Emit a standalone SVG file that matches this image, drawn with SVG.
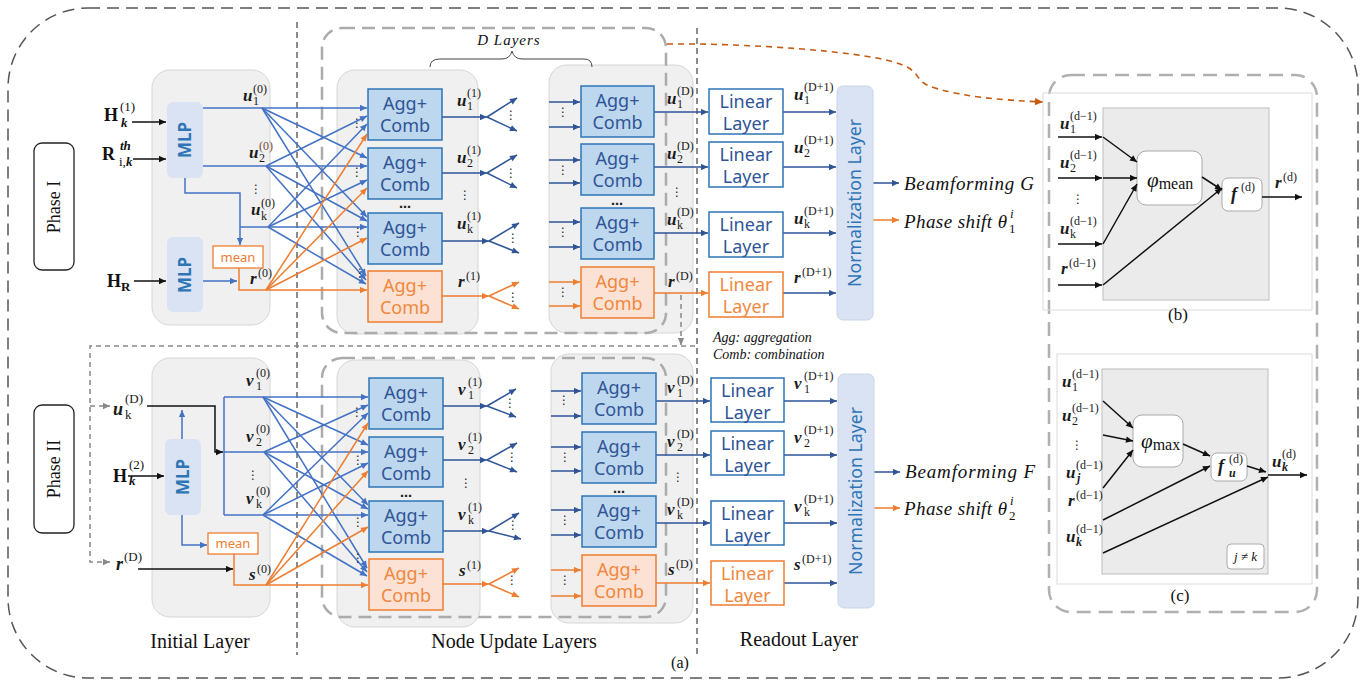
<svg xmlns="http://www.w3.org/2000/svg" width="1364" height="684" viewBox="0 0 1364 684">
<defs>
<marker id="mb" viewBox="0 0 10 10" refX="10" refY="5" markerWidth="8" markerHeight="7" markerUnits="userSpaceOnUse" orient="auto"><path d="M0,0.5 L10,5 L0,9.5 z" fill="#4472c4"/></marker>
<marker id="md" viewBox="0 0 10 10" refX="10" refY="5" markerWidth="8" markerHeight="7" markerUnits="userSpaceOnUse" orient="auto"><path d="M0,0.5 L10,5 L0,9.5 z" fill="#2f5597"/></marker>
<marker id="mo" viewBox="0 0 10 10" refX="10" refY="5" markerWidth="8" markerHeight="7" markerUnits="userSpaceOnUse" orient="auto"><path d="M0,0.5 L10,5 L0,9.5 z" fill="#ed7d31"/></marker>
<marker id="mk" viewBox="0 0 10 10" refX="10" refY="5" markerWidth="8" markerHeight="7" markerUnits="userSpaceOnUse" orient="auto"><path d="M0,0.5 L10,5 L0,9.5 z" fill="#111"/></marker>
<marker id="mg" viewBox="0 0 10 10" refX="10" refY="5" markerWidth="8" markerHeight="7" markerUnits="userSpaceOnUse" orient="auto"><path d="M0,0.5 L10,5 L0,9.5 z" fill="#888"/></marker>
<marker id="mr" viewBox="0 0 10 10" refX="10" refY="5" markerWidth="9" markerHeight="8" markerUnits="userSpaceOnUse" orient="auto"><path d="M0,0.5 L10,5 L0,9.5 z" fill="#c55a11"/></marker>
</defs>
<style>
.panel{fill:#f0f0f0;stroke:#d6d6d6;stroke-width:1}
.dl{fill:none;stroke:#ababab;stroke-width:2.5;stroke-dasharray:13 7}
.div{fill:none;stroke:#666;stroke-width:1.5;stroke-dasharray:6 4}
.lb{fill:none;stroke:#4472c4;stroke-width:1.5}
.ld{fill:none;stroke:#2f5597;stroke-width:1.5}
.lo{fill:none;stroke:#ed7d31;stroke-width:1.5}
.lk{fill:none;stroke:#111;stroke-width:1.5}
.lg{fill:none;stroke:#888;stroke-width:1.5;stroke-dasharray:5 4}
.ab{fill:#bdd7ee;stroke:#2e75b6;stroke-width:1.5}
.ao{fill:#fbe2d5;stroke:#ed7d31;stroke-width:1.5}
.linb{fill:#fff;stroke:#2e75b6;stroke-width:1.5}
.lino{fill:#fff;stroke:#ed7d31;stroke-width:1.5}
.mlp{fill:#dae3f3;stroke:none}
.norm{fill:#dae3f3;stroke:#c9d5ea;stroke-width:1}
.tb{font-family:"Noto Sans","Open Sans",sans-serif;font-size:18px;fill:#2f5597;text-anchor:middle}
.to{font-family:"Noto Sans","Open Sans",sans-serif;font-size:18px;fill:#f0883e;text-anchor:middle}
.tm{font-family:"Noto Sans","Open Sans",sans-serif;font-size:17px;font-weight:bold;fill:#2e75b6;text-anchor:middle}
.v{font-family:"Liberation Serif","DejaVu Serif",serif;font-weight:bold;font-style:italic;font-size:17px;fill:#1a1a1a}
.sp{font-size:12px;font-weight:normal;font-style:normal}
.hb{font-family:"Liberation Serif","DejaVu Serif",serif;font-weight:bold;font-size:18px;fill:#111}
.ser{font-family:"Liberation Serif","DejaVu Serif",serif;font-size:19px;fill:#111}
.it{font-family:"Liberation Serif","DejaVu Serif",serif;font-style:italic;font-size:19px;fill:#111}
.dots{font-family:"DejaVu Sans",sans-serif;font-size:12px;fill:#222;text-anchor:middle;dominant-baseline:central}
.wbox{fill:#fff;stroke:#aaa;stroke-width:1}
</style>
<rect width="1364" height="684" fill="#fff"/>
<rect id="outer-border" x="8" y="8" width="1350" height="670" rx="80" fill="none" stroke="#555" stroke-width="1.5" stroke-dasharray="12 7"/>

<g id="initial-layer-top"><rect class="panel" x="152" y="70" width="118" height="255" rx="18"/></g>
<g id="initial-layer-bottom"><rect class="panel" x="152" y="358" width="118" height="259" rx="18"/></g>
<g id="node-update-top-1"><rect class="panel" x="337" y="70" width="141" height="264" rx="18"/></g>
<g id="node-update-top-2"><rect class="panel" x="549" y="65" width="144" height="268" rx="18"/></g>
<g id="node-update-bottom-1"><rect class="panel" x="337" y="360" width="143" height="267" rx="18"/></g>
<g id="node-update-bottom-2"><rect class="panel" x="551" y="354" width="142" height="269" rx="18"/></g>

<g id="dividers">
<line class="div" x1="297" y1="22" x2="297" y2="655"/>
<line class="div" x1="697" y1="28" x2="697" y2="655"/>
</g>

<g id="d-layers">
<rect class="dl" x="322" y="28" width="344" height="305" rx="20"/>
<rect class="dl" x="322" y="358" width="344" height="259" rx="20"/>
<text x="509" y="45" class="it" style="font-size:15px;letter-spacing:1px" text-anchor="middle">D Layers</text>
<path d="M430,67 Q430,59 440,59 L502,59 Q510,59 512,51 Q514,59 522,59 L584,59 Q592,59 592,67" fill="none" stroke="#444" stroke-width="1"/>
</g>

<g id="phase1"><rect x="34" y="143" width="40" height="127" rx="8" fill="#fff" stroke="#222" stroke-width="1.3"/>
<text class="ser" style="font-size:18px" text-anchor="middle" transform="translate(60,207) rotate(-90)">Phase I</text></g>
<g id="phase2"><rect x="34" y="405" width="40" height="128" rx="8" fill="#fff" stroke="#222" stroke-width="1.3"/>
<text class="ser" style="font-size:18px" text-anchor="middle" transform="translate(60,469) rotate(-90)">Phase II</text></g>

<g id="connectors">
<path class="lg" d="M681,295 V345" marker-end="url(#mg)"/>
<path class="lg" d="M695,346 H90 V562 H110" marker-end="url(#mg)"/>
<path class="lg" d="M90,406 H110" marker-end="url(#mg)"/>
<path d="M667,44 L700,44 C790,46 880,54 905,66 C922,74 914,82 935,88 C965,97 1000,100 1043,102" fill="none" stroke="#c55a11" stroke-width="1.6" stroke-dasharray="6 5" marker-end="url(#mr)"/>

<path class="lk" d="M132,122 H166" marker-end="url(#mk)"/>
<path class="lk" d="M133,159 H166" marker-end="url(#mk)"/>
<path class="lk" d="M134,281 H166" marker-end="url(#mk)"/>
<path class="lb" d="M203,108 H367" marker-end="url(#mb)"/>
<path class="lb" d="M203,166 H367" marker-end="url(#mb)"/>
<path class="lb" d="M185,178 V193 H240 V245" marker-end="url(#mb)"/>
<path class="lb" d="M240,227 H367" marker-end="url(#mb)"/>
<path class="lb" d="M203,281 H237" marker-end="url(#mb)"/>
<path class="lo" d="M239,268 V290 H367" marker-end="url(#mo)"/>
<path class="lb" d="M262,108 L367,158" marker-end="url(#mb)"/>
<path class="lb" d="M262,108 L367,217" marker-end="url(#mb)"/>
<path class="lb" d="M262,108 L366,276" marker-end="url(#mb)"/>
<path class="lb" d="M266,166 L367,116" marker-end="url(#mb)"/>
<path class="lb" d="M266,166 L367,221" marker-end="url(#mb)"/>
<path class="lb" d="M266,166 L366,280" marker-end="url(#mb)"/>
<path class="lb" d="M268,227 L367,124" marker-end="url(#mb)"/>
<path class="lb" d="M268,227 L367,180" marker-end="url(#mb)"/>
<path class="lb" d="M268,227 L366,284" marker-end="url(#mb)"/>
<path class="lo" d="M266,290 L367,134" marker-end="url(#mo)"/>
<path class="lo" d="M266,290 L367,188" marker-end="url(#mo)"/>
<path class="lo" d="M266,290 L367,238" marker-end="url(#mo)"/>

<path class="lk" d="M147,406 H215 V452 H223" marker-end="url(#mk)"/>
<path class="lk" d="M128,476 H164" marker-end="url(#mk)"/>
<path class="lk" d="M138,569 H233" marker-end="url(#mk)"/>
<path class="lb" d="M182,439 V410" marker-end="url(#mb)"/>
<path class="lb" d="M182,515 V545 H207" marker-end="url(#mb)"/>
<path class="lo" d="M234,554 V585 H368" marker-end="url(#mo)"/>
<path class="lb" d="M224,397 V515"/>
<path class="lb" d="M224,397 H368" marker-end="url(#mb)"/>
<path class="lb" d="M224,452 H368" marker-end="url(#mb)"/>
<path class="lb" d="M224,515 H368" marker-end="url(#mb)"/>
<path class="lb" d="M263,397 L368,445" marker-end="url(#mb)"/>
<path class="lb" d="M263,397 L368,505" marker-end="url(#mb)"/>
<path class="lb" d="M263,397 L367,568" marker-end="url(#mb)"/>
<path class="lb" d="M264,452 L368,405" marker-end="url(#mb)"/>
<path class="lb" d="M264,452 L368,509" marker-end="url(#mb)"/>
<path class="lb" d="M264,452 L367,572" marker-end="url(#mb)"/>
<path class="lb" d="M263,515 L368,413" marker-end="url(#mb)"/>
<path class="lb" d="M263,515 L368,463" marker-end="url(#mb)"/>
<path class="lb" d="M263,515 L367,576" marker-end="url(#mb)"/>
<path class="lo" d="M266,585 L368,423" marker-end="url(#mo)"/>
<path class="lo" d="M266,585 L368,471" marker-end="url(#mo)"/>
<path class="lo" d="M266,585 L368,527" marker-end="url(#mo)"/>

<path class="ld" d="M442,117 H487" marker-end="url(#md)"/>
<path class="ld" d="M487,117 L517,98" marker-end="url(#md)"/>
<path class="ld" d="M487,117 L517,131" marker-end="url(#md)"/>
<path class="ld" d="M442,173 H487" marker-end="url(#md)"/>
<path class="ld" d="M487,173 L517,155" marker-end="url(#md)"/>
<path class="ld" d="M487,173 L517,188" marker-end="url(#md)"/>
<path class="ld" d="M442,241 H489" marker-end="url(#md)"/>
<path class="ld" d="M489,241 L519,223" marker-end="url(#md)"/>
<path class="ld" d="M489,241 L519,253" marker-end="url(#md)"/>
<path class="lo" d="M442,296 H489" marker-end="url(#mo)"/>
<path class="lo" d="M489,296 L519,282" marker-end="url(#mo)"/>
<path class="lo" d="M489,296 L519,309" marker-end="url(#mo)"/>
<path class="ld" d="M443,406 H487" marker-end="url(#md)"/>
<path class="ld" d="M487,406 L516,389" marker-end="url(#md)"/>
<path class="ld" d="M487,406 L516,417" marker-end="url(#md)"/>
<path class="ld" d="M443,460 H487" marker-end="url(#md)"/>
<path class="ld" d="M487,460 L517,443" marker-end="url(#md)"/>
<path class="ld" d="M487,460 L517,472" marker-end="url(#md)"/>
<path class="ld" d="M443,531 H489" marker-end="url(#md)"/>
<path class="ld" d="M489,531 L519,513" marker-end="url(#md)"/>
<path class="ld" d="M489,531 L521,539" marker-end="url(#md)"/>
<path class="lo" d="M443,584 H489" marker-end="url(#mo)"/>
<path class="lo" d="M489,584 L519,568" marker-end="url(#mo)"/>
<path class="lo" d="M489,584 L519,597" marker-end="url(#mo)"/>

<path class="ld" d="M549,102 H580" marker-end="url(#md)"/>
<path class="ld" d="M549,127 H580" marker-end="url(#md)"/>
<path class="ld" d="M549,160 H580" marker-end="url(#md)"/>
<path class="ld" d="M549,183 H580" marker-end="url(#md)"/>
<path class="ld" d="M549,222 H580" marker-end="url(#md)"/>
<path class="ld" d="M549,247 H580" marker-end="url(#md)"/>
<path class="lo" d="M549,282 H580" marker-end="url(#mo)"/>
<path class="lo" d="M549,306 H580" marker-end="url(#mo)"/>
<path class="ld" d="M551,391 H581" marker-end="url(#md)"/>
<path class="ld" d="M551,416 H581" marker-end="url(#md)"/>
<path class="ld" d="M551,447 H581" marker-end="url(#md)"/>
<path class="ld" d="M551,471 H581" marker-end="url(#md)"/>
<path class="ld" d="M551,510 H581" marker-end="url(#md)"/>
<path class="ld" d="M551,535 H581" marker-end="url(#md)"/>
<path class="lo" d="M551,570 H581" marker-end="url(#mo)"/>
<path class="lo" d="M551,596 H581" marker-end="url(#mo)"/>

<path class="ld" d="M654,112 H708" marker-end="url(#md)"/>
<path class="ld" d="M654,167 H708" marker-end="url(#md)"/>
<path class="ld" d="M654,233 H708" marker-end="url(#md)"/>
<path class="lo" d="M654,293 H708" marker-end="url(#mo)"/>
<path class="ld" d="M656,401 H710" marker-end="url(#md)"/>
<path class="ld" d="M656,455 H710" marker-end="url(#md)"/>
<path class="ld" d="M656,523 H710" marker-end="url(#md)"/>
<path class="lo" d="M656,583 H710" marker-end="url(#mo)"/>
<path class="ld" d="M783,112 H836" marker-end="url(#md)"/>
<path class="ld" d="M783,167 H836" marker-end="url(#md)"/>
<path class="ld" d="M783,233 H836" marker-end="url(#md)"/>
<path class="ld" d="M783,293 H836" marker-end="url(#md)"/>
<path class="ld" d="M784,401 H837" marker-end="url(#md)"/>
<path class="ld" d="M784,455 H837" marker-end="url(#md)"/>
<path class="ld" d="M784,523 H837" marker-end="url(#md)"/>
<path class="ld" d="M784,583 H837" marker-end="url(#md)"/>
<path class="ld" d="M873,183 H899" marker-end="url(#md)"/>
<path class="lo" d="M873,220 H899" marker-end="url(#mo)"/>
<path class="ld" d="M874,472 H900" marker-end="url(#md)"/>
<path class="lo" d="M874,508 H900" marker-end="url(#mo)"/>
</g>

<g id="mlp-top-1"><rect class="mlp" x="167" y="102" width="36" height="76" rx="6"/><text class="tm" transform="translate(191,140) rotate(-90)">MLP</text></g>
<g id="mlp-top-2"><rect class="mlp" x="167" y="237" width="36" height="75" rx="6"/><text class="tm" transform="translate(191,275) rotate(-90)">MLP</text></g>
<g id="mean-top"><rect x="213" y="246" width="50" height="22" fill="#fff" stroke="#ed7d31" stroke-width="1.3"/><text x="238" y="262" font-family="Noto Sans, sans-serif" font-size="13" fill="#ed7d31" text-anchor="middle">mean</text></g>
<g id="mlp-bottom"><rect class="mlp" x="165" y="439" width="36" height="76" rx="6"/><text class="tm" transform="translate(189,477) rotate(-90)">MLP</text></g>
<g id="mean-bottom"><rect x="208" y="533" width="50" height="21" fill="#fff" stroke="#ed7d31" stroke-width="1.3"/><text x="233" y="548" font-family="Noto Sans, sans-serif" font-size="13" fill="#ed7d31" text-anchor="middle">mean</text></g>

<g id="agg-t1-1"><rect class="ab" x="368" y="89" width="74" height="51"/><text class="tb" x="405" y="110">Agg+</text><text class="tb" x="405" y="132">Comb</text></g>
<g id="agg-t1-2"><rect class="ab" x="368" y="148" width="74" height="51"/><text class="tb" x="405" y="169">Agg+</text><text class="tb" x="405" y="191">Comb</text></g>
<g id="agg-t1-3"><rect class="ab" x="368" y="213" width="74" height="51"/><text class="tb" x="405" y="234">Agg+</text><text class="tb" x="405" y="256">Comb</text></g>
<g id="agg-t1-4"><rect class="ao" x="368" y="271" width="74" height="51"/><text class="to" x="405" y="292">Agg+</text><text class="to" x="405" y="314">Comb</text></g>
<g id="agg-t2-1"><rect class="ab" x="581" y="86" width="73" height="51"/><text class="tb" x="617.5" y="107">Agg+</text><text class="tb" x="617.5" y="129">Comb</text></g>
<g id="agg-t2-2"><rect class="ab" x="581" y="144" width="73" height="51"/><text class="tb" x="617.5" y="165">Agg+</text><text class="tb" x="617.5" y="187">Comb</text></g>
<g id="agg-t2-3"><rect class="ab" x="581" y="208" width="73" height="51"/><text class="tb" x="617.5" y="229">Agg+</text><text class="tb" x="617.5" y="251">Comb</text></g>
<g id="agg-t2-4"><rect class="ao" x="581" y="267" width="73" height="51"/><text class="to" x="617.5" y="288">Agg+</text><text class="to" x="617.5" y="310">Comb</text></g>
<g id="agg-b1-1"><rect class="ab" x="369" y="378" width="74" height="51"/><text class="tb" x="406" y="399">Agg+</text><text class="tb" x="406" y="421">Comb</text></g>
<g id="agg-b1-2"><rect class="ab" x="369" y="437" width="74" height="50"/><text class="tb" x="406" y="458">Agg+</text><text class="tb" x="406" y="480">Comb</text></g>
<g id="agg-b1-3"><rect class="ab" x="369" y="501" width="74" height="51"/><text class="tb" x="406" y="522">Agg+</text><text class="tb" x="406" y="544">Comb</text></g>
<g id="agg-b1-4"><rect class="ao" x="369" y="559" width="74" height="51"/><text class="to" x="406" y="580">Agg+</text><text class="to" x="406" y="602">Comb</text></g>
<g id="agg-b2-1"><rect class="ab" x="582" y="373" width="74" height="51"/><text class="tb" x="619" y="394">Agg+</text><text class="tb" x="619" y="416">Comb</text></g>
<g id="agg-b2-2"><rect class="ab" x="582" y="432" width="74" height="51"/><text class="tb" x="619" y="453">Agg+</text><text class="tb" x="619" y="475">Comb</text></g>
<g id="agg-b2-3"><rect class="ab" x="582" y="496" width="74" height="51"/><text class="tb" x="619" y="517">Agg+</text><text class="tb" x="619" y="539">Comb</text></g>
<g id="agg-b2-4"><rect class="ao" x="582" y="555" width="74" height="51"/><text class="to" x="619" y="576">Agg+</text><text class="to" x="619" y="598">Comb</text></g>

<g id="lin-t1"><rect class="linb" x="709" y="89" width="74" height="45"/><text class="tb" x="746" y="108">Linear</text><text class="tb" x="746" y="130">Layer</text></g>
<g id="lin-t2"><rect class="linb" x="709" y="142" width="74" height="45"/><text class="tb" x="746" y="161">Linear</text><text class="tb" x="746" y="183">Layer</text></g>
<g id="lin-t3"><rect class="linb" x="709" y="212" width="74" height="45"/><text class="tb" x="746" y="231">Linear</text><text class="tb" x="746" y="253">Layer</text></g>
<g id="lin-t4"><rect class="lino" x="709" y="272" width="74" height="45"/><text class="to" x="746" y="291">Linear</text><text class="to" x="746" y="313">Layer</text></g>
<g id="lin-b1"><rect class="linb" x="711" y="378" width="73" height="44"/><text class="tb" x="747.5" y="397">Linear</text><text class="tb" x="747.5" y="419">Layer</text></g>
<g id="lin-b2"><rect class="linb" x="711" y="431" width="73" height="44"/><text class="tb" x="747.5" y="450">Linear</text><text class="tb" x="747.5" y="472">Layer</text></g>
<g id="lin-b3"><rect class="linb" x="711" y="501" width="73" height="44"/><text class="tb" x="747.5" y="520">Linear</text><text class="tb" x="747.5" y="542">Layer</text></g>
<g id="lin-b4"><rect class="lino" x="711" y="561" width="73" height="44"/><text class="to" x="747.5" y="580">Linear</text><text class="to" x="747.5" y="602">Layer</text></g>

<g id="norm-top"><rect class="norm" x="837" y="86" width="36" height="234" rx="6"/><text class="tb" style="fill:#2e75b6" transform="translate(861,203) rotate(-90)" textLength="168" lengthAdjust="spacingAndGlyphs">Normalization Layer</text></g>
<g id="norm-bottom"><rect class="norm" x="838" y="374" width="36" height="234" rx="6"/><text class="tb" style="fill:#2e75b6" transform="translate(862,491) rotate(-90)" textLength="168" lengthAdjust="spacingAndGlyphs">Normalization Layer</text></g>

<g id="out-top">
<text class="it" x="904" y="190" textLength="130" lengthAdjust="spacing">Beamforming G</text>
<text class="it" x="904" y="228"><tspan textLength="103" lengthAdjust="spacing">Phase shift θ</tspan><tspan x="1009" y="233" style="font-size:13px;font-style:normal">1</tspan><tspan x="1010" y="218" style="font-size:13px">i</tspan></text>
</g>
<g id="out-bottom">
<text class="it" x="905" y="478" textLength="130" lengthAdjust="spacing">Beamforming F</text>
<text class="it" x="904" y="515"><tspan textLength="103" lengthAdjust="spacing">Phase shift θ</tspan><tspan x="1009" y="520" style="font-size:13px;font-style:normal">2</tspan><tspan x="1010" y="505" style="font-size:13px">i</tspan></text>
</g>

<g id="labels-input">
<text class="hb" x="104" y="121">H<tspan x="120" y="111" style="font-size:13px;font-weight:normal">(1)</tspan><tspan x="121" y="127" style="font-size:13px;font-style:italic">k</tspan></text>
<text class="hb" x="102" y="160">R<tspan x="120" y="150" style="font-size:13px;font-style:italic">th</tspan><tspan x="119" y="166" style="font-size:13px;font-weight:normal">i,<tspan style="font-style:italic;font-weight:bold">k</tspan></tspan></text>
<text class="hb" x="107" y="287">H<tspan x="121" y="291" style="font-size:13px">R</tspan></text>
<text class="v" x="113" y="415" style="font-size:18px">u<tspan class="sp" x="125" y="403" style="font-size:13px">(D)</tspan><tspan class="sp" x="125" y="419" style="font-size:13px">k</tspan></text>
<text class="hb" x="113" y="482">H<tspan x="129" y="469" style="font-size:13px;font-weight:normal">(2)</tspan><tspan x="129" y="485" style="font-size:13px;font-style:italic">k</tspan></text>
<text class="v" x="116" y="570" style="font-size:18px">r<tspan class="sp" x="124" y="561" style="font-size:13px">(D)</tspan></text>
</g>

<g id="labels-vars">
<text class="v" x="243" y="101">u<tspan class="sp" x="253" y="93">(0)</tspan><tspan class="sp" x="253" y="105">1</tspan></text>
<text class="v" x="249" y="158">u<tspan class="sp" x="259" y="150" style="fill:#7a4a40">(0)</tspan><tspan class="sp" x="259" y="162">2</tspan></text>
<text class="v" x="251" y="215">u<tspan class="sp" x="261" y="207">(0)</tspan><tspan class="sp" x="261" y="220">k</tspan></text>
<text class="v" x="250" y="284">r<tspan class="sp" x="258" y="277">(0)</tspan></text>
<text class="v" x="246" y="386">v<tspan class="sp" x="256" y="377">(0)</tspan><tspan class="sp" x="256" y="390">1</tspan></text>
<text class="v" x="246" y="442">v<tspan class="sp" x="256" y="433">(0)</tspan><tspan class="sp" x="256" y="446">2</tspan></text>
<text class="v" x="246" y="504">v<tspan class="sp" x="256" y="495">(0)</tspan><tspan class="sp" x="256" y="508">k</tspan></text>
<text class="v" x="249" y="580">s<tspan class="sp" x="257" y="573">(0)</tspan></text>

<text class="v" x="457" y="106">u<tspan class="sp" x="467" y="97">(1)</tspan><tspan class="sp" x="467" y="110">1</tspan></text>
<text class="v" x="457" y="163">u<tspan class="sp" x="467" y="154">(1)</tspan><tspan class="sp" x="467" y="167">2</tspan></text>
<text class="v" x="457" y="229">u<tspan class="sp" x="467" y="220">(1)</tspan><tspan class="sp" x="467" y="233">k</tspan></text>
<text class="v" x="458" y="287">r<tspan class="sp" x="466" y="280">(1)</tspan></text>
<text class="v" x="458" y="395">v<tspan class="sp" x="468" y="386">(1)</tspan><tspan class="sp" x="468" y="399">1</tspan></text>
<text class="v" x="458" y="450">v<tspan class="sp" x="468" y="441">(1)</tspan><tspan class="sp" x="468" y="454">2</tspan></text>
<text class="v" x="458" y="520">v<tspan class="sp" x="468" y="511">(1)</tspan><tspan class="sp" x="468" y="524">k</tspan></text>
<text class="v" x="459" y="576">s<tspan class="sp" x="467" y="569">(1)</tspan></text>

<text class="v" x="667" y="104">u<tspan class="sp" x="677" y="95">(D)</tspan><tspan class="sp" x="677" y="108">1</tspan></text>
<text class="v" x="667" y="159">u<tspan class="sp" x="677" y="150">(D)</tspan><tspan class="sp" x="677" y="163">2</tspan></text>
<text class="v" x="667" y="225">u<tspan class="sp" x="677" y="216">(D)</tspan><tspan class="sp" x="677" y="229">k</tspan></text>
<text class="v" x="668" y="287">r<tspan class="sp" x="676" y="280">(D)</tspan></text>
<text class="v" x="667" y="393">v<tspan class="sp" x="677" y="384">(D)</tspan><tspan class="sp" x="677" y="397">1</tspan></text>
<text class="v" x="667" y="447">v<tspan class="sp" x="677" y="438">(D)</tspan><tspan class="sp" x="677" y="451">2</tspan></text>
<text class="v" x="667" y="515">v<tspan class="sp" x="677" y="506">(D)</tspan><tspan class="sp" x="677" y="519">k</tspan></text>
<text class="v" x="668" y="575">s<tspan class="sp" x="676" y="568">(D)</tspan></text>

<text class="v" x="794" y="100">u<tspan class="sp" x="804" y="91">(D+1)</tspan><tspan class="sp" x="804" y="104">1</tspan></text>
<text class="v" x="794" y="153">u<tspan class="sp" x="804" y="144">(D+1)</tspan><tspan class="sp" x="804" y="157">2</tspan></text>
<text class="v" x="794" y="224">u<tspan class="sp" x="804" y="215">(D+1)</tspan><tspan class="sp" x="804" y="228">k</tspan></text>
<text class="v" x="794" y="283">r<tspan class="sp" x="802" y="276">(D+1)</tspan></text>
<text class="v" x="794" y="389">v<tspan class="sp" x="804" y="380">(D+1)</tspan><tspan class="sp" x="804" y="393">1</tspan></text>
<text class="v" x="794" y="443">v<tspan class="sp" x="804" y="434">(D+1)</tspan><tspan class="sp" x="804" y="447">2</tspan></text>
<text class="v" x="794" y="512">v<tspan class="sp" x="804" y="503">(D+1)</tspan><tspan class="sp" x="804" y="516">k</tspan></text>
<text class="v" x="794" y="570">s<tspan class="sp" x="802" y="563">(D+1)</tspan></text>
</g>

<g id="ellipses">
<text class="dots" x="256" y="189">⋮</text>
<text class="dots" x="253" y="475">⋮</text>
<text class="dots" x="465" y="195">⋮</text>
<text class="dots" x="466" y="483">⋮</text>
<text class="dots" x="677" y="192">⋮</text>
<text class="dots" x="678" y="477">⋮</text>
<text class="dots" x="511" y="115">⋮</text>
<text class="dots" x="511" y="173">⋮</text>
<text class="dots" x="513" y="238">⋮</text>
<text class="dots" x="513" y="297">⋮</text>
<text class="dots" x="510" y="403">⋮</text>
<text class="dots" x="512" y="457">⋮</text>
<text class="dots" x="513" y="525">⋮</text>
<text class="dots" x="512" y="580">⋮</text>
<text class="dots" x="563" y="112">⋮</text>
<text class="dots" x="563" y="170">⋮</text>
<text class="dots" x="563" y="232">⋮</text>
<text class="dots" x="563" y="292">⋮</text>
<text class="dots" x="564" y="400">⋮</text>
<text class="dots" x="565" y="457">⋮</text>
<text class="dots" x="565" y="520">⋮</text>
<text class="dots" x="565" y="580">⋮</text>
<text class="dots" x="357" y="123">⋮</text>
<text class="dots" x="357" y="172">⋮</text>
<text class="dots" x="358" y="232">⋮</text>
<text class="dots" x="360" y="273">⋮</text>
<text class="dots" x="357" y="412">⋮</text>
<text class="dots" x="358" y="460">⋮</text>
<text class="dots" x="358" y="522">⋮</text>
<text class="dots" x="358" y="558">⋮</text>
<text class="dots" x="405" y="204" style="font-weight:bold">…</text>
<text class="dots" x="617" y="201" style="font-weight:bold">…</text>
<text class="dots" x="406" y="493" style="font-weight:bold">…</text>
<text class="dots" x="619" y="489" style="font-weight:bold">…</text>
</g>

<g id="titles">
<text class="it" x="713" y="342" style="font-size:14px">Agg: aggregation</text>
<text class="it" x="713" y="359" style="font-size:14px">Comb: combination</text>
<text class="ser" x="200" y="648" text-anchor="middle" style="font-size:20px">Initial Layer</text>
<text class="ser" x="514" y="648" text-anchor="middle" style="font-size:20px">Node Update Layers</text>
<text class="ser" x="799" y="646" text-anchor="middle" style="font-size:20px">Readout Layer</text>
<text class="ser" x="680" y="668" text-anchor="middle" style="font-size:16px">(a)</text>
</g>

<rect id="bc-dashed" x="1049" y="75" width="268" height="537" rx="22" fill="none" stroke="#b0b0b0" stroke-width="2.5" stroke-dasharray="14 8"/>
<g id="panel-b">
<rect x="1043" y="93" width="269" height="217" fill="none" stroke="#dcdcdc" stroke-width="1"/>
<rect x="1103" y="108" width="166" height="192" fill="#ebebeb" stroke="#bdbdbd" stroke-width="1"/>
<rect class="wbox" x="1137" y="151" width="65" height="54" rx="9"/>
<rect class="wbox" x="1222" y="178" width="40" height="33" rx="6"/>
<text x="1147" y="187" font-family="Liberation Serif, serif" font-style="italic" font-size="21" fill="#111">φ<tspan font-style="normal" font-size="16" dy="2">mean</tspan></text>
<text class="v" x="1231" y="200" style="font-size:18px">f<tspan class="sp" x="1241" y="191">(d)</tspan></text>
<path class="lk" d="M1058,137 H1102" marker-end="url(#mk)"/>
<path class="lk" d="M1058,178 H1102" marker-end="url(#mk)"/>
<path class="lk" d="M1058,244 H1102" marker-end="url(#mk)"/>
<path class="lk" d="M1058,285 H1102" marker-end="url(#mk)"/>
<path class="lk" d="M1103,137 L1137,162" marker-end="url(#mk)"/>
<path class="lk" d="M1103,178 L1137,178" marker-end="url(#mk)"/>
<path class="lk" d="M1103,244 L1137,184" marker-end="url(#mk)"/>
<path class="lk" d="M1103,285 L1222,188" marker-end="url(#mk)"/>
<path class="lk" d="M1202,177 L1222,190" marker-end="url(#mk)"/>
<path class="lk" d="M1262,197 H1302" marker-end="url(#mk)"/>
<text class="v" x="1060" y="129">u<tspan class="sp" x="1070" y="120">(d−1)</tspan><tspan class="sp" x="1070" y="133">1</tspan></text>
<text class="v" x="1060" y="168">u<tspan class="sp" x="1070" y="159">(d−1)</tspan><tspan class="sp" x="1070" y="172">2</tspan></text>
<text class="dots" x="1078" y="199">⋮</text>
<text class="v" x="1060" y="234">u<tspan class="sp" x="1070" y="225">(d−1)</tspan><tspan class="sp" x="1070" y="238">k</tspan></text>
<text class="v" x="1061" y="274">r<tspan class="sp" x="1069" y="267">(d−1)</tspan></text>
<text class="v" x="1275" y="188">r<tspan class="sp" x="1283" y="181">(d)</tspan></text>
<text class="ser" x="1178" y="320" text-anchor="middle" style="font-size:17px">(b)</text>
</g>
<g id="panel-c">
<rect x="1057" y="354" width="255" height="230" fill="none" stroke="#dcdcdc" stroke-width="1"/>
<rect x="1102" y="369" width="166" height="205" fill="#ebebeb" stroke="#bdbdbd" stroke-width="1"/>
<rect class="wbox" x="1133" y="415" width="50" height="52" rx="9"/>
<rect class="wbox" x="1211" y="453" width="36" height="28" rx="6"/>
<rect class="wbox" x="1227" y="544" width="37" height="25" rx="4"/>
<text x="1141" y="448" font-family="Liberation Serif, serif" font-style="italic" font-size="21" fill="#111">φ<tspan font-style="normal" font-size="16" dy="2">max</tspan></text>
<text class="v" x="1218" y="472" style="font-size:18px">f<tspan class="sp" x="1229" y="463">(d)</tspan><tspan class="sp" x="1229" y="477" style="font-weight:bold;font-style:italic">u</tspan></text>
<text x="1245.5" y="561" font-family="Liberation Serif, serif" font-style="italic" font-size="13" fill="#111" text-anchor="middle">j ≠ k</text>
<path class="lk" d="M1103,401 L1133,428" marker-end="url(#mk)"/>
<path class="lk" d="M1103,435 L1133,441" marker-end="url(#mk)"/>
<path class="lk" d="M1103,488 L1133,450" marker-end="url(#mk)"/>
<path class="lk" d="M1103,520 L1210,466" marker-end="url(#mk)"/>
<path class="lk" d="M1183,444 L1210,456" marker-end="url(#mk)"/>
<path class="lk" d="M1247,466 L1266,472" marker-end="url(#mk)"/>
<path class="lk" d="M1103,553 L1268,477" marker-end="url(#mk)"/>
<path class="lk" d="M1268,475 H1307" marker-end="url(#mk)"/>
<text class="v" x="1062" y="387">u<tspan class="sp" x="1072" y="378">(d−1)</tspan><tspan class="sp" x="1072" y="391">1</tspan></text>
<text class="v" x="1062" y="421">u<tspan class="sp" x="1072" y="412">(d−1)</tspan><tspan class="sp" x="1072" y="425">2</tspan></text>
<text class="dots" x="1077" y="445">⋮</text>
<text class="v" x="1066" y="478">u<tspan class="sp" x="1076" y="469">(d−1)</tspan><tspan class="sp" x="1077" y="482" style="font-weight:bold;font-style:italic">j</tspan></text>
<text class="v" x="1068" y="506">r<tspan class="sp" x="1076" y="499">(d−1)</tspan></text>
<text class="v" x="1066" y="542">u<tspan class="sp" x="1076" y="533">(d−1)</tspan><tspan class="sp" x="1076" y="546" style="font-weight:bold;font-style:italic">k</tspan></text>
<text class="v" x="1272" y="467">u<tspan class="sp" x="1282" y="458">(d)</tspan><tspan class="sp" x="1282" y="471" style="font-weight:bold;font-style:italic">k</tspan></text>
<text class="ser" x="1180" y="601" text-anchor="middle" style="font-size:17px">(c)</text>
</g>
</svg>
